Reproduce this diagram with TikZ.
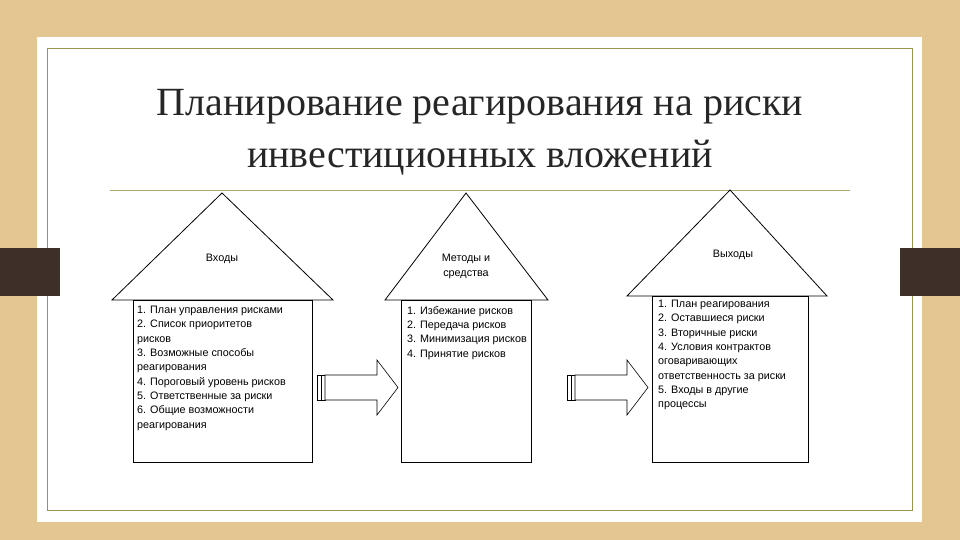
\documentclass[tikz,border=0pt]{standalone}
\usepackage{fontspec}
\setmainfont{Liberation Serif}
\newfontfamily\arial{Liberation Sans}
\begin{document}
\begin{tikzpicture}[x=1pt,y=-1pt,
  hs/.style={draw=black,line width=0.8pt,fill=white},
  bt/.style={font=\arial\fontsize{10.8}{14.3}\selectfont,align=left,anchor=north west,inner sep=0pt},
  lb/.style={font=\arial\fontsize{10.8}{15}\selectfont,align=center,inner sep=0pt}]
\useasboundingbox (0,0) rectangle (960,540);
\fill[color={rgb,255:red,228;green,198;blue,146}] (0,0) rectangle (960,540);
\fill[white] (37,37) rectangle (922,522);
\draw[color={rgb,255:red,150;green,150;blue,80},line width=0.8pt] (47,48) rectangle (912,510);
\fill[color={rgb,255:red,62;green,48;blue,40}] (0,248) rectangle (60,296);
\fill[color={rgb,255:red,62;green,48;blue,40}] (900,248) rectangle (960,296);
\node[font=\fontsize{40}{52}\selectfont,align=center,text=black!85] (title) at (480,132) {Планирование реагирования на риски\\инвестиционных вложений};
\draw[color={rgb,255:red,170;green,170;blue,110},line width=0.8pt] (110,190) -- (850,190);
% houses
\draw[hs] (112,300) -- (222,193) -- (333,300) -- cycle;
\draw[hs] (133,300) rectangle (312,462);
\node[lb] (in) at (222,259) {Входы};
\node[bt] (inl) at (137,306) {1. План управления рисками\\2. Список приоритетов\\рисков\\3. Возможные способы\\реагирования\\4. Пороговый уровень рисков\\5. Ответственные за риски\\6. Общие возможности\\реагирования};
\draw[hs] (385,300) -- (466,193) -- (548,300) -- cycle;
\draw[hs] (401,300) rectangle (531,462);
\node[lb] (mt) at (466,266) {Методы и\\средства};
\node[bt] (mtl) at (407,306) {1. Избежание рисков\\2. Передача рисков\\3. Минимизация рисков\\4. Принятие рисков};
\draw[hs] (627,296) -- (730,190) -- (827,296) -- cycle;
\draw[hs] (652,296) rectangle (808,462);
\node[lb] (out) at (733,255) {Выходы};
\node[bt] (outl) at (658,300) {1. План реагирования\\2. Оставшиеся риски\\3. Вторичные риски\\4. Условия контрактов\\оговаривающих\\ответственность за риски\\5. Входы в другие\\процессы};
% arrows
\foreach \x in {317,567}{
  \draw[line width=0.6pt] (\x,375) rectangle (\x+4,400);
  \draw[line width=0.6pt] (\x+4,375) rectangle (\x+8,400);
  \draw[line width=0.6pt,fill=white] (\x+8,375) -- (\x+60,375) -- (\x+60,360) -- (\x+81,387.5) -- (\x+60,415) -- (\x+60,400) -- (\x+8,400) -- cycle;
}
\end{tikzpicture}
\end{document}
